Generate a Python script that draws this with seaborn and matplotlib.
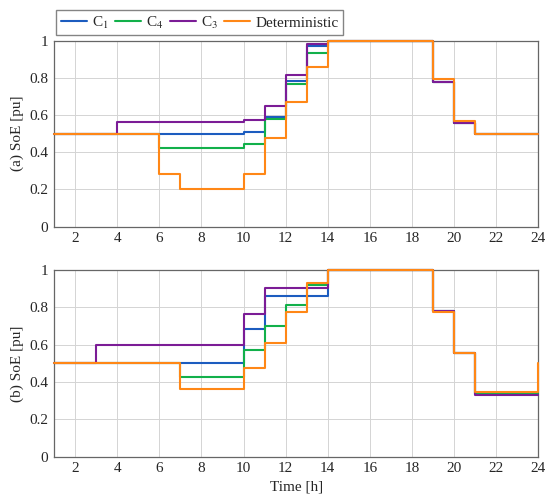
import matplotlib
matplotlib.use("Agg")
import matplotlib.pyplot as plt
import seaborn as sns
import pandas as pd

# hours (step starts)
hours = list(range(1, 25))
series_names = ["C$_1$", "C$_4$", "C$_3$", "Deterministic"]

# (a) SoE per hour
a_c1 = [0.5] * 9 + [0.51, 0.59, 0.783, 0.973] + [1.0] * 5 + [0.78, 0.56] + [0.5] * 4
a_c4 = [0.5] * 5 + [0.423] * 4 + [0.443, 0.581, 0.765, 0.935] + [1.0] * 5 + [0.78, 0.56] + [0.5] * 4
a_c3 = [0.5] * 3 + [0.563] * 6 + [0.572, 0.647, 0.817, 0.982] + [1.0] * 5 + [0.78, 0.556] + [0.5] * 4
a_det = [0.5] * 5 + [0.283, 0.2, 0.2, 0.2, 0.283, 0.477, 0.67, 0.857] + [1.0] * 5 + [0.792, 0.57] + [0.5] * 4

# (b) SoE per hour
b_c1 = [0.5] * 9 + [0.684, 0.862, 0.862, 0.862] + [1.0] * 5 + [0.78, 0.555] + [0.335] * 4
b_c4 = [0.5] * 6 + [0.429] * 3 + [0.571, 0.70, 0.811, 0.92] + [1.0] * 5 + [0.78, 0.555] + [0.34] * 4
b_c3 = [0.5] * 2 + [0.598] * 7 + [0.766, 0.904, 0.904, 0.904] + [1.0] * 5 + [0.78, 0.555] + [0.332] * 4
b_det = [0.5] * 6 + [0.364] * 3 + [0.475, 0.607, 0.777, 0.929] + [1.0] * 5 + [0.775, 0.553] + [0.345] * 3 + [0.5]

colors = ["#1c5cbf", "#12b04a", "#7b1c96", "#ff8716"]

sns.set_style("whitegrid")
plt.rcParams["font.family"] = ["Liberation Serif", "DejaVu Serif"]
plt.rcParams["mathtext.fontset"] = "stix"
plt.rcParams["font.size"] = 11


def make_df(vals):
    rows = []
    for name, v in zip(series_names, vals):
        for h, y in zip(hours, v):
            rows.append({"hour": h, "soe": y, "case": name})
    return pd.DataFrame(rows)


fig = plt.figure(figsize=(5.5, 5.01), dpi=100)
ax_a = fig.add_axes([0.098, 0.5475, 0.881, 0.3713])
ax_b = fig.add_axes([0.098, 0.0884, 0.881, 0.3727])

panels = [(ax_a, [a_c1, a_c4, a_c3, a_det], "(a) SoE [pu]"),
          (ax_b, [b_c1, b_c4, b_c3, b_det], "(b) SoE [pu]")]

for ax, vals, ylab in panels:
    df = make_df(vals)
    sns.lineplot(data=df, x="hour", y="soe", hue="case", hue_order=series_names,
                 palette=colors, drawstyle="steps-post", linewidth=1.5,
                 ax=ax, legend=False, clip_on=False, zorder=3)
    ax.set_xlim(1, 24)
    ax.set_ylim(0, 1)
    ax.set_xticks(range(2, 25, 2))
    ax.set_yticks([0, 0.2, 0.4, 0.6, 0.8, 1])
    ax.set_yticklabels(["0", "0.2", "0.4", "0.6", "0.8", "1"])
    ax.set_ylabel(ylab)
    ax.set_xlabel("")
    ax.grid(True, color="#d4d4d4", linewidth=0.7)
    ax.tick_params(length=0, pad=4)
    for sp in ax.spines.values():
        sp.set_color("#666666")
        sp.set_linewidth(0.9)
        sp.set_zorder(2)

ax_b.set_xlabel("Time [h]")

handles = [plt.Line2D([], [], color=c, lw=1.5) for c in colors]
fig.legend(handles, series_names, loc="upper left", bbox_to_anchor=(0.088, 0.995),
           ncol=4, frameon=True, fancybox=False, edgecolor="#666666",
           handlelength=1.7, handletextpad=0.35, columnspacing=0.4,
           borderpad=0.3, fontsize=11)

fig.savefig("out.png", dpi=100)
